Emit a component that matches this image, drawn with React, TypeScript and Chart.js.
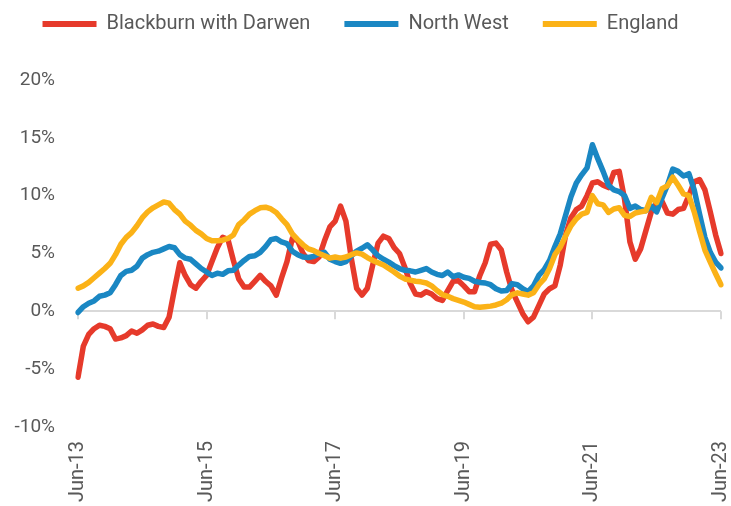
import React, { useEffect, useRef } from "react";
import { Chart, registerables } from "chart.js";

Chart.register(...registerables);

const monthNames = ["Jan", "Feb", "Mar", "Apr", "May", "Jun", "Jul", "Aug", "Sep", "Oct", "Nov", "Dec"];
const startYear = 2013;
const startMonth = 5; // June
const monthCount = 121;
const categories: string[] = [];
for (let i = 0; i < monthCount; i++) {
  const m = (startMonth + i) % 12;
  const y = startYear + Math.floor((startMonth + i) / 12);
  categories.push(monthNames[m] + "-" + String(y).slice(2));
}

const tickLabels = ["Jun-13", "Jun-15", "Jun-17", "Jun-19", "Jun-21", "Jun-23"];

const seriesNames = ["Blackburn with Darwen", "North West", "England"];

const blackburn = [
  -5.7, -3.0, -2.0, -1.5, -1.2, -1.3, -1.5, -2.4, -2.3, -2.1, -1.7, -1.9,
  -1.6, -1.2, -1.1, -1.3, -1.4, -0.5, 1.9, 4.2, 3.1, 2.3, 2.0, 2.6,
  3.1, 4.3, 5.5, 6.4, 6.2, 4.4, 2.8, 2.1, 2.1, 2.6, 3.1, 2.6,
  2.2, 1.4, 2.9, 4.3, 6.3, 6.1, 5.0, 4.4, 4.3, 4.7, 6.1, 7.3,
  7.8, 9.1, 7.8, 4.6, 2.0, 1.4, 2.0, 4.0, 5.9, 6.5, 6.3, 5.5,
  5.0, 3.8, 2.4, 1.5, 1.4, 1.7, 1.5, 1.1, 0.95, 1.8, 2.6, 2.65,
  2.2, 1.7, 1.7, 3.1, 4.2, 5.8, 5.9, 5.3, 3.4, 1.8, 0.8, -0.2,
  -0.9, -0.5, 0.5, 1.5, 1.95, 2.2, 4.0, 6.6, 8.1, 8.8, 9.1, 10.0,
  11.1, 11.2, 10.9, 10.7, 12.0, 12.1, 9.7, 6.0, 4.5, 5.4, 7.0, 8.6,
  9.4, 9.5, 8.5, 8.4, 8.8, 8.9, 10.0, 11.2, 11.4, 10.5, 8.6, 6.6,
  5.0,
];

const northWest = [
  -0.1, 0.4, 0.7, 0.9, 1.3, 1.4, 1.6, 2.3, 3.1, 3.45, 3.55, 3.9,
  4.6, 4.9, 5.1, 5.2, 5.4, 5.6, 5.5, 4.9, 4.6, 4.5, 4.1, 3.7,
  3.4, 3.1, 3.3, 3.2, 3.5, 3.55, 4.0, 4.4, 4.75, 4.8, 5.1, 5.6,
  6.2, 6.3, 6.0, 5.85, 5.2, 4.9, 4.7, 4.65, 4.75, 5.0, 5.1, 4.5,
  4.3, 4.15, 4.3, 4.8, 5.2, 5.45, 5.75, 5.3, 4.8, 4.5, 4.25, 3.95,
  3.7, 3.55, 3.5, 3.4, 3.55, 3.7, 3.4, 3.2, 3.1, 3.4, 3.0, 3.15,
  2.95, 2.85, 2.6, 2.5, 2.45, 2.3, 1.95, 1.75, 1.8, 2.4, 2.3, 1.95,
  1.7, 2.2, 3.1, 3.6, 4.4, 5.6, 6.7, 8.3, 9.9, 11.1, 11.8, 12.4,
  14.4, 13.2, 12.1, 10.9, 10.5, 10.35, 10.0, 8.9, 9.1, 8.8, 8.7, 9.1,
  8.6, 9.8, 10.9, 12.3, 12.1, 11.7, 11.9, 10.5, 8.4, 6.4, 5.1, 4.25,
  3.75,
];

const england = [
  2.0, 2.2, 2.5, 2.9, 3.3, 3.7, 4.15, 4.9, 5.8, 6.4, 6.8, 7.4,
  8.1, 8.6, 8.95, 9.2, 9.45, 9.35, 8.8, 8.4, 7.8, 7.45, 7.0, 6.7,
  6.3, 6.1, 6.1, 6.15, 6.3, 6.6, 7.5, 7.9, 8.4, 8.7, 8.95, 9.0,
  8.85, 8.55, 8.0, 7.5, 6.7, 6.2, 5.75, 5.4, 5.25, 5.0, 4.8, 4.6,
  4.7, 4.6, 4.7, 4.9, 5.05, 4.95, 4.65, 4.4, 4.2, 4.0, 3.7, 3.4,
  3.05, 2.8, 2.7, 2.6, 2.55, 2.45, 2.2, 1.8, 1.45, 1.3, 1.1, 0.95,
  0.8, 0.6, 0.4, 0.35, 0.4, 0.45, 0.55, 0.7, 1.0, 1.45, 1.6, 1.5,
  1.4, 1.6, 2.3, 2.8, 3.7, 4.9, 5.55, 6.5, 7.4, 8.0, 8.4, 8.55,
  10.0, 9.3, 9.2, 8.55, 8.85, 8.95, 8.3, 8.2, 8.5, 8.6, 8.7, 9.85,
  9.4, 10.6, 10.85, 11.6, 10.9, 10.15, 10.0, 8.6, 6.9, 5.3, 4.25, 3.25,
  2.3,
];

const yTicks = [-10, -5, 0, 5, 10, 15, 20];

const colors = ["#E63A2B", "#1A87C3", "#FBB217"];
const textColor = "#595959";
const axisGrey = "#D9D9D9";
const fontFamily = "'Roboto', 'Liberation Sans', sans-serif";

const zeroTicksPlugin = {
  id: "zeroTicks",
  beforeDatasetsDraw(chart: any) {
    const xs = chart.scales.x;
    const ys = chart.scales.y;
    const y0 = ys.getPixelForValue(0);
    const ctx = chart.ctx;
    ctx.save();
    ctx.strokeStyle = axisGrey;
    ctx.lineWidth = 2;
    tickLabels.forEach((lab) => {
      const idx = categories.indexOf(lab);
      if (idx < 0) return;
      const x = Math.round(xs.getPixelForValue(idx));
      ctx.beginPath();
      ctx.moveTo(x, y0);
      ctx.lineTo(x, y0 + 8);
      ctx.stroke();
    });
    ctx.restore();
  },
};

export default function App() {
  const ref = useRef<HTMLCanvasElement | null>(null);

  useEffect(() => {
    if (!ref.current) return;
    const data = [blackburn, northWest, england];
    const chart = new Chart(ref.current, {
      type: "line",
      data: {
        labels: categories,
        datasets: data.map((d, i) => ({
          label: seriesNames[i],
          data: d,
          borderColor: colors[i],
          backgroundColor: colors[i],
          borderWidth: 5.5,
          pointRadius: 0,
          tension: 0,
          borderCapStyle: "round" as const,
          borderJoinStyle: "round" as const,
          order: 3 - i,
        })),
      },
      options: {
        animation: false,
        responsive: true,
        maintainAspectRatio: false,
        layout: { padding: { top: -20, right: 10, bottom: 0, left: 0 } },
        plugins: {
          tooltip: { enabled: false },
          subtitle: {
            display: true,
            text: "",
            weight: 500,
            font: { size: 10, lineHeight: 1.2 },
            padding: { top: 12, bottom: 12 },
          },
          legend: {
            display: true,
            position: "top",
            align: "center",
            labels: {
              boxWidth: 54,
              boxHeight: 6,
              useBorderRadius: true,
              borderRadius: 3,
              padding: 34,
              color: textColor,
              font: { family: fontFamily, size: 20 },
              sort: (a: any, b: any) => a.datasetIndex - b.datasetIndex,
              generateLabels: (chart: any) =>
                chart.data.datasets.map((ds: any, i: number) => ({
                  text: ds.label,
                  fillStyle: ds.borderColor,
                  strokeStyle: ds.borderColor,
                  lineWidth: 0,
                  fontColor: textColor,
                  datasetIndex: i,
                  hidden: false,
                })),
            },
          },
        },
        scales: {
          x: {
            type: "category",
            grid: { display: false, drawTicks: false },
            border: { display: false },
            ticks: {
              autoSkip: false,
              minRotation: 90,
              maxRotation: 90,
              padding: 14,
              color: textColor,
              font: { family: fontFamily, size: 20 },
              callback: function (this: any, _v: any, idx: number) {
                const lab = categories[idx];
                return tickLabels.includes(lab) ? lab : "";
              },
            },
            afterFit: (scale: any) => {
              scale.height = 79;
              scale.paddingLeft = 0;
              scale.paddingRight = 0;
            },
          },
          y: {
            min: yTicks[0],
            max: yTicks[yTicks.length - 1],
            grid: {
              drawTicks: false,
              lineWidth: 2,
              color: (ctx: any) => (ctx.tick && ctx.tick.value === 0 ? axisGrey : "rgba(0,0,0,0)"),
            },
            border: { display: false },
            afterBuildTicks: (scale: any) => {
              scale.ticks = yTicks.map((v) => ({ value: v }));
            },
            ticks: {
              padding: 23,
              color: textColor,
              font: { family: fontFamily, size: 19 },
              callback: (v: any) => v + "%",
            },
            afterFit: (scale: any) => {
              scale.width = 78;
              scale.paddingTop = 0;
              scale.paddingBottom = 0;
            },
          },
        },
      },
      plugins: [zeroTicksPlugin],
    });
    return () => chart.destroy();
  }, []);

  return (
    <div style={{ position: "fixed", left: 0, top: 0, width: 731, height: 506, background: "#fff" }}>
      <canvas ref={ref} />
    </div>
  );
}
